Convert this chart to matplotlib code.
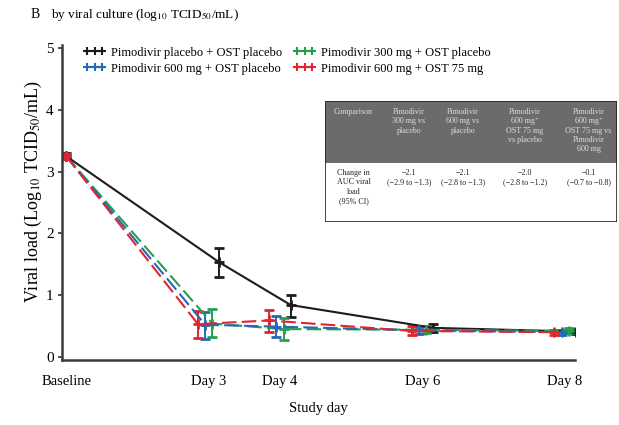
import numpy as np
import matplotlib
matplotlib.use("Agg")
import matplotlib.pyplot as plt
from matplotlib.patches import Rectangle

plt.rcParams["font.family"] = ["Liberation Serif", "DejaVu Serif"]
plt.rcParams["mathtext.fontset"] = "stix"

# study days (baseline = day 1) and tick labels
days = [1, 3, 4, 6, 8]
day_labels = ["Baseline", "Day 3", "Day 4", "Day 6", "Day 8"]

# mean viral load and 95% CI per group
placebo_mean = [3.25, 1.53, 0.84, 0.47, 0.41]
placebo_lo = [3.20, 1.30, 0.65, 0.40, 0.37]
placebo_hi = [3.30, 1.76, 1.01, 0.53, 0.45]

p300_mean = [3.25, 0.54, 0.45, 0.44, 0.42]
p300_lo = [3.21, 0.33, 0.28, 0.38, 0.38]
p300_hi = [3.29, 0.77, 0.63, 0.50, 0.46]

p600_mean = [3.25, 0.52, 0.49, 0.43, 0.40]
p600_lo = [3.21, 0.29, 0.33, 0.37, 0.36]
p600_hi = [3.29, 0.72, 0.66, 0.49, 0.44]

p600ost_mean = [3.25, 0.53, 0.59, 0.42, 0.40]
p600ost_lo = [3.21, 0.30, 0.41, 0.36, 0.36]
p600ost_hi = [3.29, 0.74, 0.76, 0.50, 0.44]

legend_labels = [
    "Pimodivir placebo + OST placebo",
    "Pimodivir 300 mg + OST placebo",
    "Pimodivir 600 mg + OST placebo",
    "Pimodivir 600 mg + OST 75 mg",
]

table_header = [
    "Comparison",
    "Pimodivir\n300 mg vs\nplacebo",
    "Pimodivir\n600 mg vs\nplacebo",
    "Pimodivir\n600 mg\u207a\nOST 75 mg\nvs placebo",
    "Pimodivir\n600 mg\u207a\nOST 75 mg vs\nPimodivir\n600 mg",
]
table_row = [
    "Change in\nAUC viral\nload\n(95% CI)",
    "\u22122.1\n(\u22122.9 to \u22121.3)",
    "\u22122.1\n(\u22122.8 to \u22121.3)",
    "\u22122.0\n(\u22122.8 to \u22121.2)",
    "\u22120.1\n(\u22120.7 to \u22120.8)",
]

series = [
    (placebo_mean, placebo_lo, placebo_hi, "#1c1c1c", "-", 0.15),
    (p300_mean, p300_lo, p300_hi, "#22a04b", "--", 0.05),
    (p600_mean, p600_lo, p600_hi, "#2468b8", "--", -0.05),
    (p600ost_mean, p600ost_lo, p600ost_hi, "#e02430", "--", -0.15),
]

fig = plt.figure(figsize=(6.19, 4.25), dpi=100)
ax = fig.add_axes([0.100, 0.153, 0.829, 0.741])

handles = []
for (mean, lo, hi, color, ls, dodge), label in zip(series, legend_labels):
    x = np.array(days, dtype=float)
    x[1:] += dodge
    mean = np.asarray(mean)
    yerr = [mean - np.asarray(lo), np.asarray(hi) - mean]
    ax.errorbar(x, mean, yerr=yerr, color=color, linestyle=ls,
                linewidth=1.5, marker="+", markersize=7,
                markeredgewidth=2, capsize=3.5, elinewidth=1.4,
                capthick=1.4, dashes=(7, 2.5) if ls == "--" else (None, None))
    h, = ax.plot([], [], color=color, linestyle="-", linewidth=1.5,
                 marker="+", markersize=6, markeredgewidth=1.5)
    handles.append(h)

ax.set_xlim(0.94, 8.14)
ax.set_ylim(-0.05, 5.05)
ax.set_xticks(days)
ax.set_xticklabels(day_labels, fontsize=10.5)
ax.set_yticks([0, 1, 2, 3, 4, 5])
ax.tick_params(axis="y", labelsize=11, length=3, width=1.2, pad=3, color="#333333")
ax.tick_params(axis="x", length=0, pad=11)
for side in ("top", "right"):
    ax.spines[side].set_visible(False)
for side in ("left", "bottom"):
    ax.spines[side].set_linewidth(1.8)
    ax.spines[side].set_color("#3a3a3a")

ax.set_xlabel("Study day", fontsize=10.5, labelpad=10)
ax.set_ylabel("Viral load (Log$_{10}$ TCID$_{50}$/mL)", fontsize=13)
ax.yaxis.set_label_coords(-0.035, 0.535)

order = [0, 2, 1, 3]
ax.legend([handles[i] for i in order], [legend_labels[i] for i in order],
          ncol=2, loc="upper left", bbox_to_anchor=(0.02, 1.03), frameon=False,
          fontsize=9, numpoints=3, handlelength=1.8, handletextpad=0.4,
          columnspacing=0.9, labelspacing=0.3)

fig.text(0.050, 0.965, "B", fontsize=10, va="center")
fig.text(0.082, 0.965, "by viral culture (log$_{10}$ TCID$_{50}$/mL)",
         fontsize=9.5, va="center")

# comparison table
tab = fig.add_axes([325 / 619, 1 - 222 / 425, 292 / 619, 121 / 425])
tab.set_xlim(0, 1)
tab.set_ylim(0, 1)
tab.axis("off")
col_w = [0.195, 0.185, 0.185, 0.24, 0.195]
header_frac = 0.51
tab.add_patch(Rectangle((0, 1 - header_frac), 1, header_frac,
                        facecolor="#6b6b6b", edgecolor="none"))
tab.add_patch(Rectangle((0, 0), 1, 1, facecolor="none",
                        edgecolor="#222222", linewidth=1.2))
left = 0.0
for w, head, body in zip(col_w, table_header, table_row):
    cx = left + w / 2
    tab.text(cx, 0.94, head, ha="center", va="top", fontsize=5.8,
             color="#dedede", linespacing=1.2)
    tab.text(cx, 1 - header_frac - 0.05, body, ha="center", va="top",
             fontsize=5.8, color="#222222", linespacing=1.25)
    left += w

fig.savefig("out.png", dpi=100)
